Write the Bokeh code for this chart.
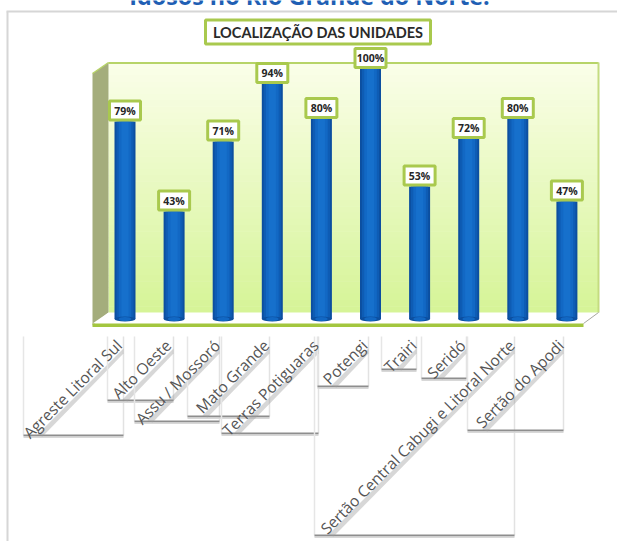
from bokeh.plotting import figure
from bokeh.embed import file_html
from bokeh.resources import INLINE
from bokeh.models import PolyAnnotation, Range1d, Label
from bokeh.core.properties import value
import math

regions = ["Agreste Litoral Sul", "Alto Oeste", "Assu / Mossoró", "Mato Grande", "Terras Potiguaras",
           "Potengi", "Trairi", "Seridó", "Sertão Central Cabugi e Litoral Norte", "Sertão do Apodi"]
percent = [79, 43, 71, 94, 80, 100, 53, 72, 80, 47]
positions = list(range(len(regions)))
percent_text = [f"{v}%" for v in percent]
chart_title = "LOCALIZAÇÃO DAS UNIDADES"
page_heading = "Idosos no Rio Grande do Norte:"

W, H = 617, 541
X0, DX = 124.5, 49.1       # screen position of first bar and spacing
Y0, DY = 318.5, 2.5        # screen position of 0 % and px per %

p = figure(width=W, height=H, output_backend="svg", toolbar_location=None,
           x_range=Range1d((0 - X0) / DX, (W - X0) / DX),
           y_range=Range1d((Y0 - H) / DY, Y0 / DY),
           x_axis_type=None, y_axis_type=None,
           min_border_left=0, min_border_right=0, min_border_top=0, min_border_bottom=0,
           background_fill_color="white", border_fill_color="white", outline_line_color=None)
p.styles = {"position": "absolute", "left": "0px", "top": "0px"}
p.grid.visible = False


def sy(y):
    return H - y


def poly(xs, ys, fill=None, line=None, lw=1, alpha=1.0, level="underlay"):
    a = PolyAnnotation(xs=xs, ys=[sy(y) for y in ys], xs_units="screen", ys_units="screen",
                       fill_color=fill, fill_alpha=alpha if fill else 0,
                       line_color=line, line_width=lw, line_alpha=alpha if line else 0, level=level)
    p.add_layout(a)


def band(l, r, t, b, fill, alpha=1.0, level="underlay"):
    poly([l, r, r, l], [t, t, b, b], fill=fill, alpha=alpha, level=level)


def mix(c0, c1, f):
    return "#%02x%02x%02x" % tuple(round(a + (b - a) * f) for a, b in zip(c0, c1))


# outer picture frame
band(6, 8, 11, 541, "#d6d6d6")
band(6, 617, 10, 12, "#d6d6d6")

# 3D walls
N = 40
for i in range(N):
    t = 62 + (312 - 62) * i / N
    b = 62 + (312 - 62) * (i + 1) / N + 0.6
    band(108, 598, t, b, mix((250, 254, 232), (214, 244, 152), i / (N - 1)))
poly([108, 598], [62.5, 62.5], line="#b7d468", lw=2)
poly([598, 598], [62, 312], line="#c4dc80", lw=2)
poly([92, 108, 108, 92], [73, 62, 312, 325], fill="#a4ad7c")
poly([108, 598, 583, 92], [312, 312, 323, 323], fill="#ffffff")
poly([598, 583], [312, 323], line="#a8a8a0", lw=1)
poly([92, 583, 583, 92], [323, 323, 326.5, 326.5], fill="#a3c63f")
poly([92, 108], [73, 62], line="#b7d468", lw=1.5)

# label boxes: left, right, bottom
boxes = [(23, 123, 435), (107, 173, 400), (134, 219, 421), (187, 269, 416), (221, 318, 433),
         (317, 368, 386), (381, 416, 369), (421, 466, 378), (314, 514, 535), (467, 563, 430)]
TOP = 336
for l, r, b in boxes:
    poly([l, l], [TOP, b], line="#e6e6e6", lw=1.5)
    poly([r, r], [TOP, b], line="#e2e2e2", lw=1.5)
    band(l, r, b - 1, b + 1, "#8e8e8e")
    band(l, r, b + 1, b + 2.5, "#d8d8d8")
    s = b - TOP - 13
    poly([r - s, r, r, r - s + 5], [b - 1, b - 1 - s, b - 1 - s + 5, b + 1],
         fill="#9a9a9a", alpha=0.4)

# cylinder bars built from nested layers
bar_w = 21 / DX
layers = [(1.0, "#0c4fa0"), (0.82, "#0e5cb4"), (0.6, "#1268c4"), (0.34, "#1670cc")]
zero = [0] * len(percent)
for f, c in layers:
    p.vbar(x=positions, bottom=zero, top=percent, width=bar_w * f, fill_color=c, line_color=None)
p.ellipse(x=positions, y=zero, width=bar_w, height=5 / DY, fill_color="#0c4fa0", line_color=None)
p.ellipse(x=positions, y=zero, width=bar_w * 0.6, height=4 / DY, fill_color="#1268c4", line_color=None)

# value labels
label_y = [v + 4.4 for v in percent]
p.rect(x=positions, y=label_y, width=31, height=19, width_units="screen", height_units="screen",
       fill_color="white", line_color="#a9c94e", line_width=3)
p.text(x=positions, y=label_y, text=percent_text, text_align="center", text_baseline="middle",
       text_font=value("Open Sans"), text_font_style="bold", text_font_size="10.5px", text_color="#262626")

# category labels, ending just left of each bar
label_base = [(Y0 - 342) / DY] * len(regions)
p.text(x=positions, y=label_base, text=regions, angle=math.pi / 4, x_offset=-6,
       text_align="right", text_baseline="middle",
       text_font=value("Open Sans"), text_font_size="15.6px", text_color="#555555")

# chart title box
band(205, 430, 19.5, 43.5, "#ffffff", level="overlay")
poly([205, 430, 430, 205], [19.5, 19.5, 43.5, 43.5], line="#a9c94e", lw=3, level="overlay")
p.add_layout(Label(x=317.5, y=sy(31.5), x_units="screen", y_units="screen", text=chart_title,
                   text_align="center", text_baseline="middle", text_font="Lato", text_font_style="bold",
                   text_font_size="14.5px", text_color="#2a2a2a", level="overlay"))
# heading cut off by the top of the picture
p.add_layout(Label(x=309, y=sy(-5), x_units="screen", y_units="screen", text=page_heading,
                   text_align="center", text_baseline="alphabetic", text_font="Open Sans", text_font_style="bold",
                   text_font_size="23.3px", text_color="#1f5fb4"))

open("out.html", "w").write(file_html(p, INLINE))
